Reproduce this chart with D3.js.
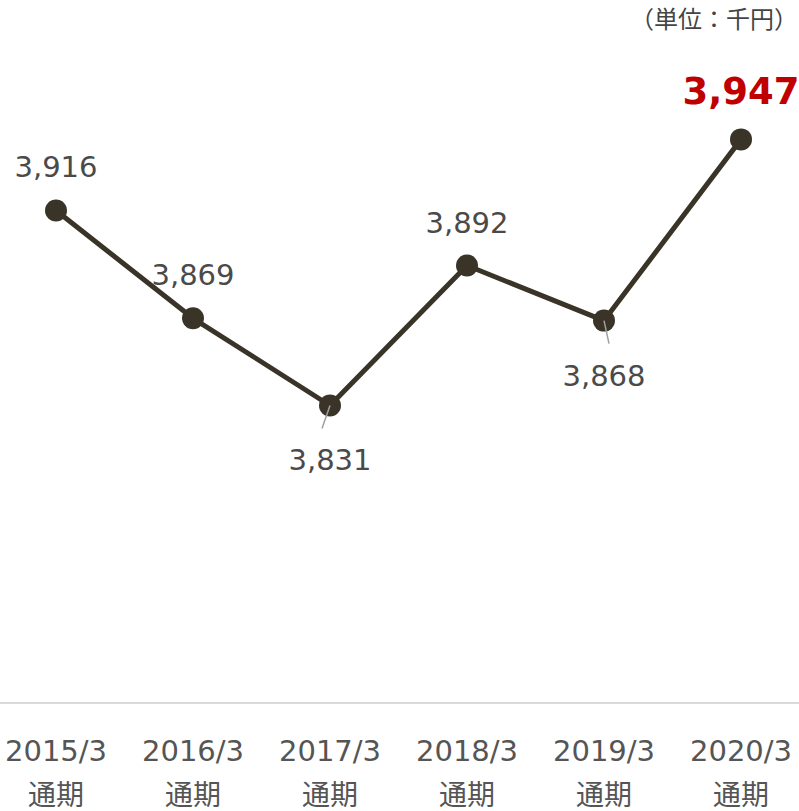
<!DOCTYPE html>
<html>
<head>
<meta charset="utf-8">
<script src="https://cdn.jsdelivr.net/npm/d3@7"></script>
<style>
  html, body { margin: 0; padding: 0; background: #fff; }
  svg { display: block; }
  text { font-family: "DejaVu Sans", "Noto Sans CJK JP", sans-serif; }
</style>
</head>
<body>
<svg id="chart" width="799" height="811"></svg>
<script>
// Fiscal periods and average annual salary (thousand yen)
const periods = ["2015/3", "2016/3", "2017/3", "2018/3", "2019/3", "2020/3"];
const periodSub = ["通期", "通期", "通期", "通期", "通期", "通期"];
const values = [3916, 3869, 3831, 3892, 3868, 3947];
// label placement: above or below the point
const labelSide = ["above", "above", "below", "above", "below", "above"];
const highlightIndex = 5;
const unitLabel = "（単位：千円）";

const W = 799, H = 811;
const svg = d3.select("#chart");

const x = d3.scalePoint().domain(periods).range([56, 741]);
const y = d3.scaleLinear().domain([3700, 4000]).range([706, 17.8]);

const lineColor = "#3a3428";
const textColor = "#4a4a4a";

// baseline
svg.append("line")
  .attr("x1", 0).attr("x2", W)
  .attr("y1", 703).attr("y2", 703)
  .attr("stroke", "#d9d9d9").attr("stroke-width", 2);

// category axis labels
const catG = svg.append("g");
periods.forEach((p, i) => {
  catG.append("text")
    .attr("x", x(p)).attr("y", 761)
    .attr("text-anchor", "middle")
    .attr("font-size", 29).attr("fill", "#555")
    .text(p);
  catG.append("text")
    .attr("x", x(p)).attr("y", 805)
    .attr("text-anchor", "middle")
    .attr("font-size", 28).attr("fill", "#555")
    .text(periodSub[i]);
});

// unit label
svg.append("text")
  .attr("x", 798).attr("y", 28)
  .attr("text-anchor", "end")
  .attr("font-size", 24).attr("fill", "#444")
  .text(unitLabel);

// series line
const line = d3.line()
  .x((d, i) => x(periods[i]))
  .y(d => y(d));
svg.append("path")
  .datum(values)
  .attr("d", line)
  .attr("fill", "none")
  .attr("stroke", lineColor)
  .attr("stroke-width", 5)
  .attr("stroke-linejoin", "round");

svg.selectAll("circle.pt")
  .data(values)
  .join("circle")
  .attr("class", "pt")
  .attr("cx", (d, i) => x(periods[i]))
  .attr("cy", d => y(d))
  .attr("r", 11)
  .attr("fill", lineColor);

// leader lines for labels below their points (drawn over the markers)
values.forEach((v, i) => {
  if (labelSide[i] === "below") {
    const dx = i === 2 ? -8 : 5;
    svg.append("line")
      .attr("x1", x(periods[i])).attr("y1", y(v))
      .attr("x2", x(periods[i]) + dx).attr("y2", y(v) + 23)
      .attr("stroke", "#a0a0a0").attr("stroke-width", 1.5);
  }
});

// value labels
const fmt = d3.format(",");
values.forEach((v, i) => {
  const px = x(periods[i]);
  if (i === highlightIndex) {
    svg.append("text")
      .attr("x", px).attr("y", y(v) - 35)
      .attr("text-anchor", "middle")
      .attr("font-size", 37).attr("font-weight", "bold")
      .attr("fill", "#c00000")
      .text(fmt(v));
  } else if (labelSide[i] === "above") {
    svg.append("text")
      .attr("x", px).attr("y", y(v) - 33)
      .attr("text-anchor", "middle")
      .attr("font-size", 29).attr("fill", textColor)
      .text(fmt(v));
  } else {
    svg.append("text")
      .attr("x", px).attr("y", y(v) + 65)
      .attr("text-anchor", "middle")
      .attr("font-size", 29).attr("fill", textColor)
      .text(fmt(v));
  }
});
</script>
</body>
</html>
